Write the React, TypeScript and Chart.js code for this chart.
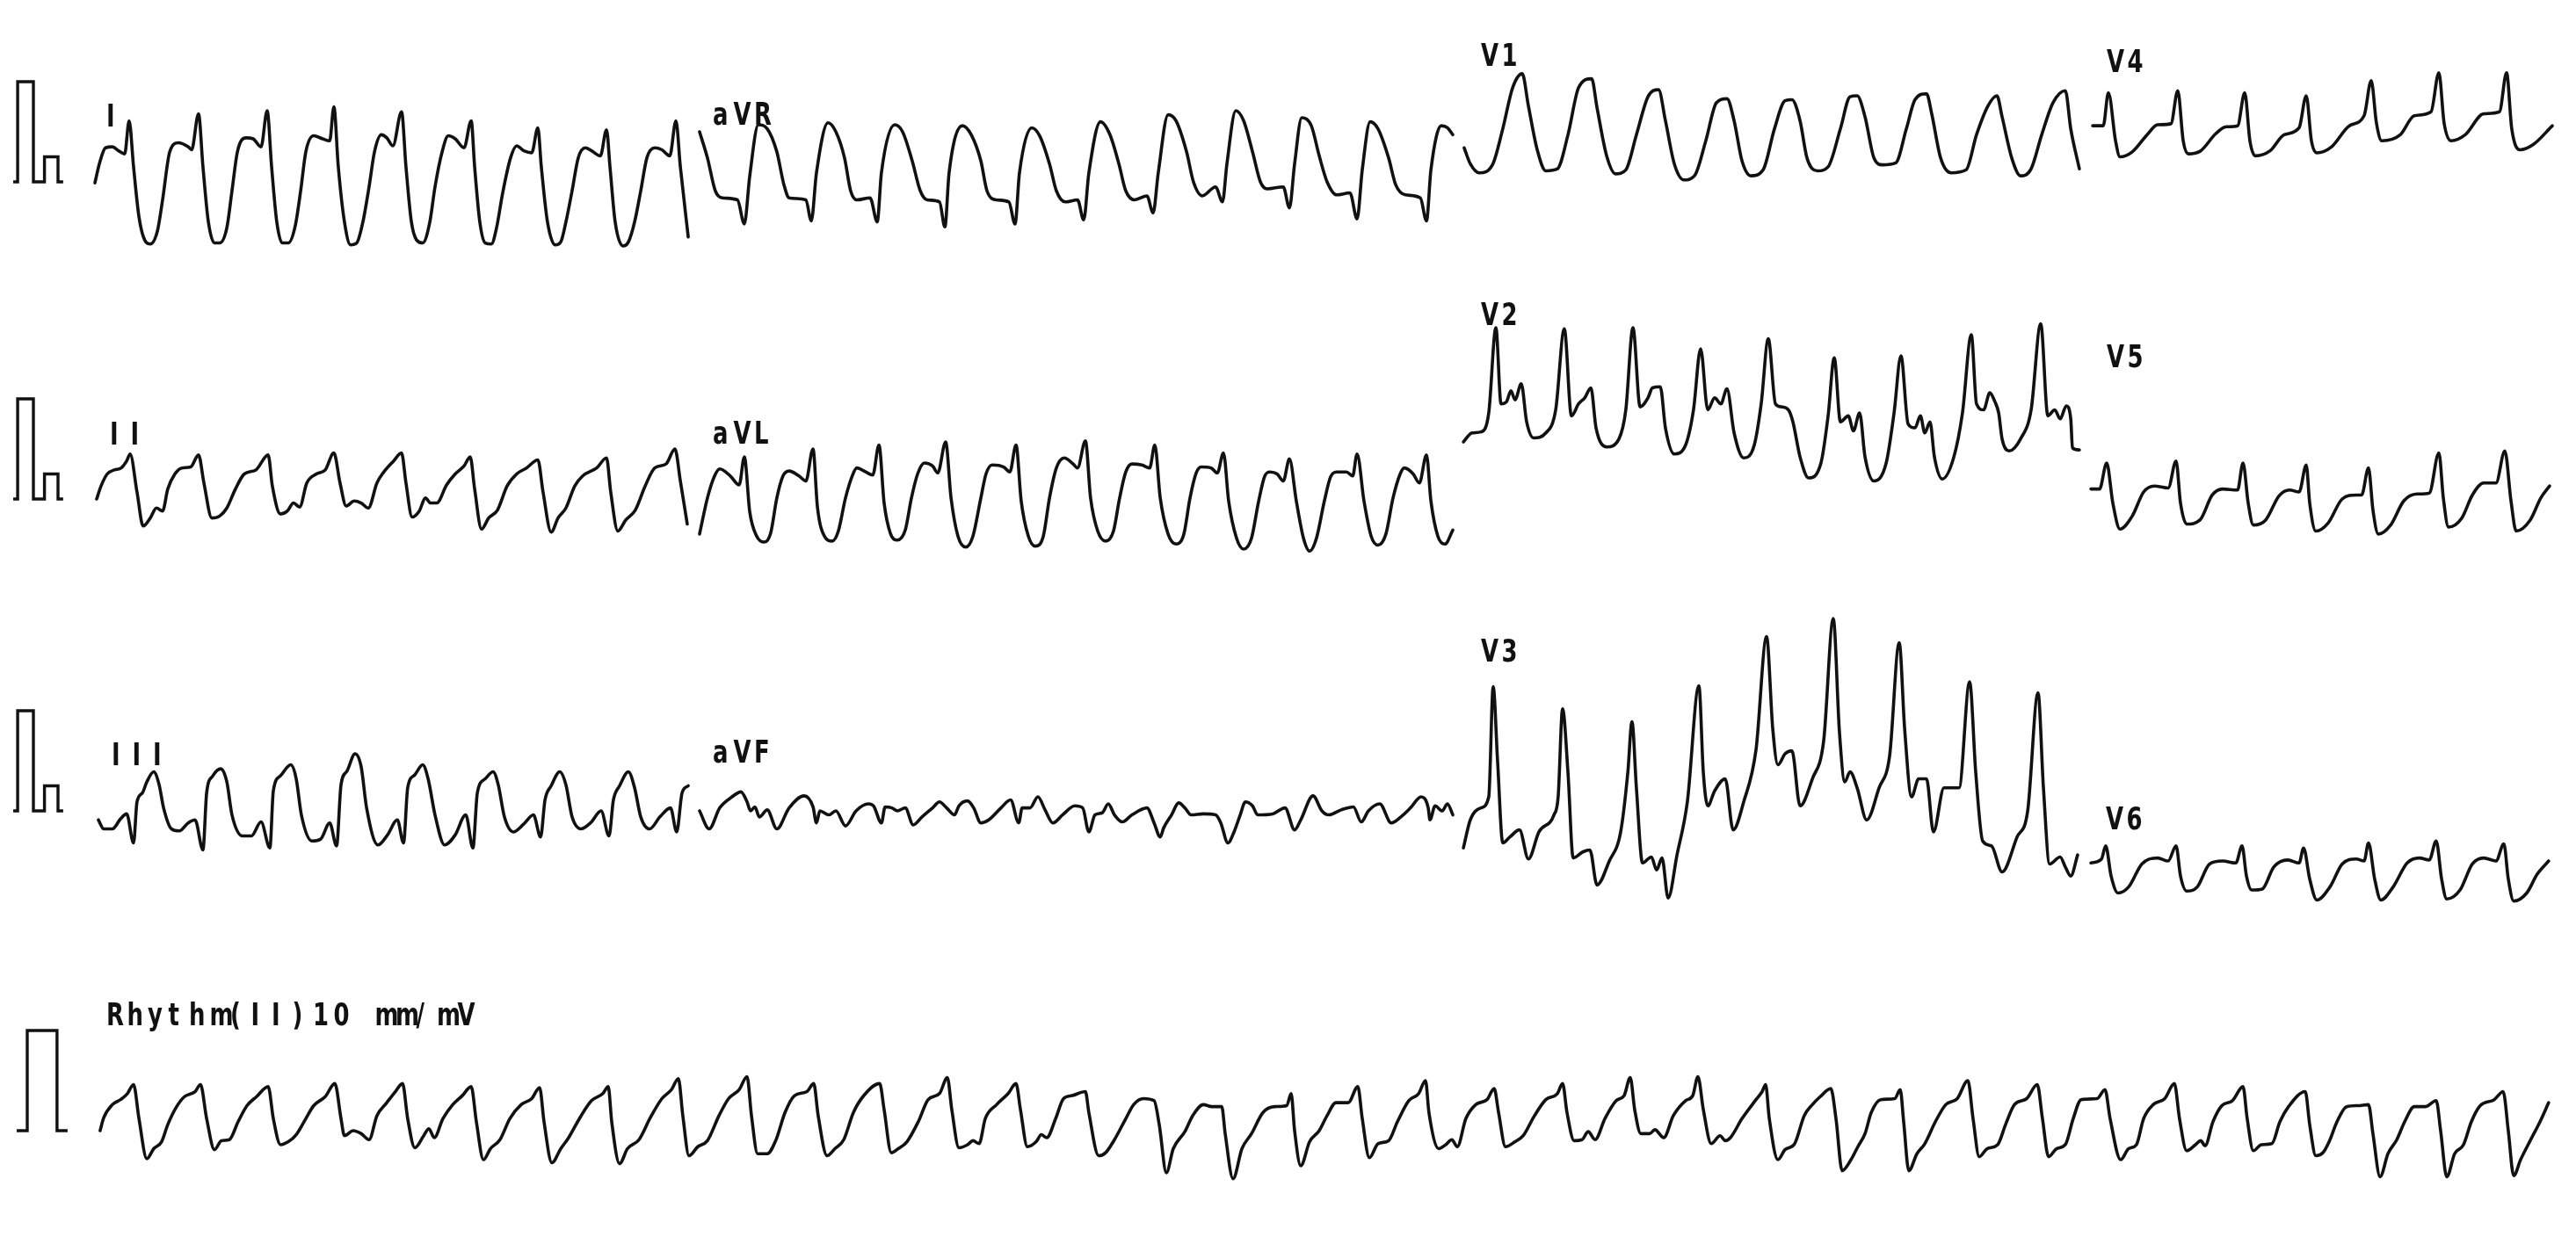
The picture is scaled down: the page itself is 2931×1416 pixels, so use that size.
import { useEffect, useRef } from "react";
import { Chart, registerables } from "chart.js";

Chart.register(...registerables);

// ---------------- DATA (time in s from strip start, amplitude in mV from row baseline) ----------------
const LEAD_NAMES = ["I", "II", "III", "aVR", "aVL", "aVF", "V1", "V2", "V3", "V4", "V5", "V6"];
const RHYTHM_LABEL = "Rhythm(II)10 mm/mV";

const CAL_LIMB: [number, number][] = [
  [-0.332, 0], [-0.314, 0], [-0.314, 1], [-0.25, 1], [-0.25, 0], [-0.205, 0], [-0.205, 0.25], [-0.15, 0.25], [-0.15, 0], [-0.129, 0],
];
const CAL_RHYTHM: [number, number][] = [
  [-0.318, 0], [-0.275, 0], [-0.275, 1], [-0.154, 1], [-0.154, 0], [-0.111, 0],
];

const LEAD_I: [number, number][] = [
  [0.000, -0.01], [0.018, 0.18], [0.043, 0.34], [0.071, 0.35], [0.096, 0.31], [0.121, 0.28], [0.139, 0.61], [0.157, 0.15], [0.179, -0.35], [0.207, -0.60],
  [0.225, -0.62], [0.254, -0.49], [0.275, -0.18], [0.304, 0.30], [0.339, 0.39], [0.379, 0.35], [0.393, 0.32], [0.421, 0.68], [0.439, 0.15], [0.461, -0.40],
  [0.486, -0.61], [0.507, -0.61], [0.536, -0.46], [0.557, -0.09], [0.579, 0.30], [0.614, 0.44], [0.643, 0.43], [0.675, 0.35], [0.700, 0.71], [0.718, 0.15],
  [0.739, -0.40], [0.761, -0.61], [0.786, -0.61], [0.814, -0.44], [0.836, -0.09], [0.857, 0.30], [0.889, 0.46], [0.925, 0.43], [0.954, 0.41], [0.971, 0.75],
  [0.989, 0.15], [1.014, -0.40], [1.039, -0.63], [1.064, -0.61], [1.089, -0.40], [1.114, -0.05], [1.136, 0.30], [1.164, 0.47], [1.186, 0.44], [1.211, 0.36],
  [1.246, 0.70], [1.264, 0.15], [1.286, -0.40], [1.307, -0.58], [1.332, -0.61], [1.361, -0.40], [1.382, -0.05], [1.411, 0.30], [1.436, 0.46], [1.464, 0.43],
  [1.500, 0.34], [1.529, 0.61], [1.543, 0.15], [1.564, -0.40], [1.586, -0.61], [1.611, -0.62], [1.632, -0.46], [1.657, -0.11], [1.689, 0.24], [1.714, 0.36],
  [1.743, 0.31], [1.775, 0.29], [1.800, 0.54], [1.814, 0.15], [1.839, -0.40], [1.871, -0.63], [1.893, -0.60], [1.914, -0.40], [1.939, -0.09], [1.964, 0.24],
  [1.993, 0.34], [2.018, 0.31], [2.054, 0.26], [2.079, 0.52], [2.093, 0.15], [2.114, -0.40], [2.146, -0.64], [2.168, -0.60], [2.193, -0.40], [2.218, -0.09],
  [2.243, 0.24], [2.275, 0.34], [2.304, 0.32], [2.336, 0.26], [2.361, 0.61], [2.379, 0.15], [2.411, -0.55],
];

const LEAD_II: [number, number][] = [
  [0.007, 0.00], [0.025, 0.13], [0.050, 0.25], [0.079, 0.29], [0.107, 0.31], [0.129, 0.38], [0.143, 0.45], [0.171, 0.07], [0.196, -0.27], [0.225, -0.19],
  [0.250, -0.09], [0.275, -0.12], [0.296, 0.10], [0.325, 0.25], [0.354, 0.31], [0.389, 0.32], [0.421, 0.44], [0.443, 0.16], [0.475, -0.19], [0.507, -0.17],
  [0.536, -0.09], [0.571, 0.10], [0.607, 0.25], [0.654, 0.29], [0.704, 0.44], [0.721, 0.13], [0.754, -0.15], [0.782, -0.12], [0.807, -0.04], [0.832, -0.08],
  [0.861, 0.16], [0.900, 0.25], [0.936, 0.29], [0.971, 0.46], [0.996, 0.16], [1.021, -0.07], [1.054, -0.02], [1.082, -0.04], [1.111, -0.09], [1.146, 0.16],
  [1.171, 0.26], [1.214, 0.38], [1.246, 0.46], [1.264, 0.16], [1.289, -0.18], [1.318, -0.12], [1.343, 0.01], [1.364, -0.04], [1.389, -0.04], [1.429, 0.14],
  [1.464, 0.25], [1.500, 0.33], [1.525, 0.42], [1.543, 0.10], [1.571, -0.30], [1.600, -0.19], [1.636, -0.11], [1.675, 0.13], [1.714, 0.25], [1.754, 0.31],
  [1.800, 0.39], [1.821, 0.07], [1.854, -0.33], [1.882, -0.19], [1.914, -0.09], [1.950, 0.13], [1.982, 0.23], [2.039, 0.31], [2.079, 0.41], [2.096, 0.07],
  [2.125, -0.32], [2.157, -0.21], [2.196, -0.11], [2.236, 0.13], [2.275, 0.31], [2.321, 0.35], [2.357, 0.50], [2.379, 0.18], [2.407, -0.25],
];

const LEAD_III: [number, number][] = [
  [0.014, -0.09], [0.036, -0.18], [0.071, -0.18], [0.104, -0.08], [0.129, -0.03], [0.157, -0.32], [0.171, 0.09], [0.193, 0.18], [0.211, 0.29], [0.239, 0.39],
  [0.261, 0.26], [0.279, 0.03], [0.311, -0.18], [0.343, -0.20], [0.379, -0.12], [0.407, -0.09], [0.439, -0.39], [0.454, 0.18], [0.479, 0.35], [0.511, 0.42],
  [0.536, 0.29], [0.557, -0.04], [0.600, -0.25], [0.636, -0.25], [0.675, -0.11], [0.711, -0.37], [0.725, 0.20], [0.754, 0.35], [0.796, 0.46], [0.818, 0.32],
  [0.839, -0.04], [0.882, -0.30], [0.918, -0.28], [0.954, -0.12], [0.982, -0.35], [1.000, 0.26], [1.025, 0.40], [1.057, 0.57], [1.082, 0.44], [1.104, 0.03],
  [1.150, -0.34], [1.189, -0.24], [1.229, -0.09], [1.254, -0.32], [1.271, 0.23], [1.300, 0.36], [1.332, 0.46], [1.354, 0.32], [1.382, -0.04], [1.421, -0.34],
  [1.464, -0.24], [1.507, -0.04], [1.536, -0.37], [1.554, 0.18], [1.586, 0.32], [1.618, 0.39], [1.639, 0.26], [1.664, -0.06], [1.700, -0.21], [1.743, -0.13],
  [1.782, -0.04], [1.811, -0.26], [1.829, 0.11], [1.854, 0.25], [1.889, 0.39], [1.914, 0.26], [1.939, -0.06], [1.975, -0.18], [2.014, -0.12], [2.057, 0.00],
  [2.089, -0.25], [2.107, 0.11], [2.132, 0.25], [2.168, 0.39], [2.193, 0.23], [2.218, -0.06], [2.254, -0.18], [2.296, -0.06], [2.339, 0.03], [2.364, -0.21],
  [2.386, 0.18], [2.411, 0.25],
];

const LEAD_AVR: [number, number][] = [
  [2.457, 0.50], [2.489, 0.24], [2.521, -0.09], [2.550, -0.16], [2.611, -0.18], [2.639, -0.42], [2.661, 0.06], [2.696, 0.57], [2.732, 0.53], [2.771, 0.30],
  [2.800, -0.03], [2.821, -0.16], [2.889, -0.18], [2.911, -0.39], [2.932, 0.09], [2.979, 0.59], [3.011, 0.50], [3.046, 0.24], [3.071, -0.09], [3.096, -0.18],
  [3.150, -0.16], [3.179, -0.40], [3.196, 0.09], [3.250, 0.57], [3.282, 0.50], [3.321, 0.21], [3.354, -0.09], [3.382, -0.18], [3.432, -0.20], [3.454, -0.45],
  [3.471, 0.09], [3.525, 0.56], [3.561, 0.47], [3.600, 0.21], [3.625, -0.09], [3.664, -0.18], [3.714, -0.20], [3.739, -0.42], [3.757, 0.09], [3.807, 0.54],
  [3.839, 0.46], [3.879, 0.18], [3.907, -0.09], [3.943, -0.20], [3.993, -0.18], [4.018, -0.38], [4.039, 0.09], [4.086, 0.60], [4.125, 0.47], [4.161, 0.18],
  [4.189, -0.09], [4.225, -0.18], [4.275, -0.14], [4.300, -0.31], [4.321, 0.09], [4.361, 0.67], [4.393, 0.61], [4.436, 0.30], [4.464, 0.00], [4.500, -0.14],
  [4.554, -0.05], [4.582, -0.20], [4.600, 0.18], [4.636, 0.71], [4.668, 0.61], [4.704, 0.30], [4.736, 0.00], [4.764, -0.07], [4.829, -0.05], [4.854, -0.26],
  [4.875, 0.18], [4.904, 0.64], [4.943, 0.56], [4.975, 0.26], [5.007, 0.00], [5.046, -0.13], [5.100, -0.11], [5.129, -0.37], [5.150, 0.12], [5.182, 0.60],
  [5.214, 0.53], [5.257, 0.24], [5.286, -0.03], [5.325, -0.13], [5.386, -0.16], [5.411, -0.39], [5.429, 0.12], [5.471, 0.56], [5.496, 0.54], [5.518, 0.47],
];

const LEAD_AVL: [number, number][] = [
  [2.457, -0.35], [2.489, 0.01], [2.518, 0.23], [2.539, 0.30], [2.582, 0.23], [2.618, 0.14], [2.639, 0.42], [2.661, -0.13], [2.689, -0.37], [2.721, -0.43],
  [2.746, -0.34], [2.771, 0.01], [2.796, 0.23], [2.821, 0.28], [2.861, 0.23], [2.889, 0.18], [2.918, 0.50], [2.936, -0.08], [2.964, -0.37], [2.996, -0.42],
  [3.021, -0.32], [3.050, 0.01], [3.079, 0.24], [3.096, 0.31], [3.132, 0.27], [3.161, 0.24], [3.186, 0.54], [3.207, -0.04], [3.232, -0.34], [3.261, -0.41],
  [3.293, -0.31], [3.318, 0.01], [3.343, 0.25], [3.371, 0.36], [3.404, 0.33], [3.425, 0.26], [3.457, 0.57], [3.479, 0.01], [3.507, -0.37], [3.539, -0.48],
  [3.568, -0.37], [3.600, 0.01], [3.621, 0.25], [3.646, 0.34], [3.693, 0.32], [3.718, 0.27], [3.743, 0.54], [3.764, -0.02], [3.793, -0.37], [3.821, -0.47],
  [3.854, -0.37], [3.879, 0.01], [3.907, 0.31], [3.939, 0.41], [3.975, 0.35], [3.993, 0.31], [4.025, 0.58], [4.046, 0.01], [4.075, -0.32], [4.107, -0.42],
  [4.139, -0.32], [4.164, 0.01], [4.189, 0.27], [4.214, 0.35], [4.254, 0.34], [4.286, 0.31], [4.307, 0.54], [4.329, 0.01], [4.361, -0.35], [4.393, -0.45],
  [4.425, -0.35], [4.450, 0.01], [4.475, 0.26], [4.496, 0.32], [4.536, 0.31], [4.561, 0.26], [4.586, 0.46], [4.607, -0.02], [4.639, -0.39], [4.668, -0.50],
  [4.700, -0.39], [4.729, -0.02], [4.754, 0.23], [4.775, 0.27], [4.804, 0.25], [4.829, 0.18], [4.854, 0.40], [4.882, -0.02], [4.911, -0.39], [4.936, -0.52],
  [4.964, -0.39], [4.996, -0.02], [5.021, 0.22], [5.046, 0.27], [5.086, 0.27], [5.111, 0.23], [5.129, 0.45], [5.157, -0.02], [5.186, -0.37], [5.214, -0.46],
  [5.246, -0.35], [5.275, 0.01], [5.304, 0.25], [5.321, 0.31], [5.357, 0.25], [5.382, 0.16], [5.411, 0.44], [5.429, -0.02], [5.457, -0.37], [5.486, -0.45],
  [5.518, -0.31],
];

const LEAD_AVF: [number, number][] = [
  [2.457, 0.00], [2.496, -0.18], [2.539, 0.03], [2.589, 0.14], [2.625, 0.19], [2.650, 0.09], [2.664, 0.00], [2.682, 0.04], [2.700, -0.06], [2.732, 0.01],
  [2.771, -0.18], [2.821, 0.03], [2.882, 0.15], [2.918, 0.04], [2.932, -0.12], [2.946, 0.00], [2.982, -0.04], [3.011, 0.00], [3.050, -0.15], [3.093, 0.00],
  [3.143, 0.07], [3.164, 0.05], [3.196, -0.12], [3.211, 0.04], [3.239, 0.03], [3.261, 0.00], [3.293, 0.03], [3.325, -0.14], [3.361, -0.06], [3.404, 0.03],
  [3.432, 0.09], [3.461, 0.03], [3.493, -0.04], [3.511, 0.05], [3.546, 0.10], [3.571, 0.03], [3.600, -0.12], [3.632, -0.09], [3.682, 0.03], [3.721, 0.11],
  [3.754, -0.12], [3.768, 0.03], [3.800, 0.03], [3.832, 0.14], [3.861, 0.01], [3.893, -0.12], [3.932, -0.04], [3.982, 0.05], [4.014, 0.03], [4.039, -0.21],
  [4.064, -0.04], [4.093, -0.02], [4.118, 0.07], [4.143, -0.04], [4.175, -0.11], [4.214, -0.04], [4.275, 0.03], [4.304, -0.12], [4.329, -0.26], [4.343, -0.17],
  [4.375, -0.04], [4.404, 0.08], [4.429, 0.03], [4.454, -0.04], [4.504, -0.03], [4.554, -0.04], [4.575, -0.12], [4.604, -0.32], [4.629, -0.21], [4.654, -0.04],
  [4.675, 0.09], [4.704, 0.05], [4.725, -0.04], [4.786, -0.03], [4.836, 0.03], [4.875, -0.19], [4.900, -0.09], [4.950, 0.15], [4.986, 0.00], [5.014, -0.04],
  [5.064, 0.01], [5.114, 0.04], [5.146, -0.11], [5.175, 0.00], [5.221, 0.07], [5.268, -0.12], [5.307, -0.06], [5.346, 0.03], [5.389, 0.14], [5.418, 0.03],
  [5.425, -0.09], [5.446, 0.05], [5.475, 0.00], [5.496, 0.07], [5.518, -0.04],
];

const LEAD_V1: [number, number][] = [
  [5.564, 0.34], [5.589, 0.18], [5.625, 0.09], [5.679, 0.17], [5.721, 0.53], [5.761, 0.94], [5.800, 1.08], [5.825, 0.76], [5.861, 0.32], [5.896, 0.11],
  [5.943, 0.13], [5.986, 0.47], [6.029, 0.94], [6.082, 1.03], [6.104, 0.74], [6.143, 0.26], [6.179, 0.08], [6.221, 0.12], [6.264, 0.47], [6.311, 0.85],
  [6.354, 0.92], [6.382, 0.61], [6.418, 0.18], [6.457, 0.02], [6.500, 0.06], [6.546, 0.41], [6.589, 0.79], [6.632, 0.83], [6.661, 0.61], [6.693, 0.21],
  [6.729, 0.06], [6.779, 0.12], [6.825, 0.53], [6.868, 0.81], [6.896, 0.82], [6.929, 0.61], [6.957, 0.24], [7.000, 0.11], [7.043, 0.15], [7.093, 0.53],
  [7.132, 0.85], [7.161, 0.86], [7.193, 0.65], [7.229, 0.24], [7.264, 0.17], [7.318, 0.19], [7.361, 0.53], [7.396, 0.82], [7.443, 0.88], [7.464, 0.68],
  [7.500, 0.24], [7.543, 0.09], [7.604, 0.12], [7.646, 0.47], [7.693, 0.76], [7.729, 0.86], [7.750, 0.65], [7.789, 0.24], [7.825, 0.06], [7.868, 0.13],
  [7.911, 0.47], [7.957, 0.79], [8.007, 0.91], [8.029, 0.53], [8.064, 0.13],
];

const LEAD_V2: [number, number][] = [
  [5.561, 0.57], [5.596, 0.66], [5.632, 0.67], [5.664, 0.86], [5.693, 1.71], [5.714, 0.95], [5.736, 0.97], [5.754, 1.08], [5.771, 0.99], [5.796, 1.15],
  [5.818, 0.77], [5.846, 0.61], [5.896, 0.66], [5.936, 0.89], [5.971, 1.70], [6.000, 0.83], [6.029, 0.95], [6.054, 1.01], [6.079, 1.11], [6.100, 0.71],
  [6.143, 0.52], [6.193, 0.60], [6.221, 0.89], [6.250, 1.71], [6.279, 0.92], [6.311, 1.01], [6.329, 1.11], [6.361, 1.12], [6.382, 0.71], [6.418, 0.45],
  [6.464, 0.54], [6.496, 0.89], [6.525, 1.50], [6.554, 0.89], [6.582, 1.01], [6.607, 0.95], [6.632, 1.10], [6.661, 0.66], [6.700, 0.41], [6.743, 0.54],
  [6.771, 0.95], [6.800, 1.60], [6.829, 0.95], [6.854, 0.92], [6.882, 0.89], [6.900, 0.77], [6.929, 0.42], [6.964, 0.21], [7.014, 0.36], [7.043, 0.83],
  [7.068, 1.41], [7.093, 0.77], [7.125, 0.83], [7.146, 0.68], [7.171, 0.86], [7.193, 0.42], [7.229, 0.18], [7.279, 0.36], [7.311, 0.86], [7.339, 1.43],
  [7.368, 0.75], [7.396, 0.71], [7.418, 0.83], [7.436, 0.66], [7.457, 0.77], [7.475, 0.42], [7.507, 0.20], [7.554, 0.42], [7.589, 0.86], [7.625, 1.64],
  [7.646, 0.95], [7.675, 0.89], [7.700, 1.06], [7.721, 0.97], [7.736, 0.86], [7.750, 0.60], [7.779, 0.48], [7.825, 0.60], [7.868, 0.89], [7.907, 1.75],
  [7.936, 0.83], [7.964, 0.89], [7.986, 0.80], [8.011, 0.93], [8.029, 0.80], [8.036, 0.51], [8.064, 0.49],
];

const LEAD_V3: [number, number][] = [
  [5.561, -0.37], [5.589, -0.09], [5.632, 0.03], [5.664, 0.14], [5.682, 1.24], [5.700, 0.49], [5.721, -0.32], [5.750, -0.26], [5.789, -0.19], [5.825, -0.48],
  [5.868, -0.21], [5.929, -0.04], [5.946, 0.14], [5.964, 1.02], [5.986, 0.38], [6.007, -0.47], [6.046, -0.41], [6.075, -0.39], [6.104, -0.74], [6.154, -0.50],
  [6.200, -0.21], [6.229, 0.38], [6.246, 0.89], [6.264, 0.23], [6.289, -0.52], [6.325, -0.46], [6.346, -0.59], [6.368, -0.47], [6.393, -0.87], [6.429, -0.44],
  [6.471, 0.09], [6.518, 1.25], [6.536, 0.38], [6.554, 0.05], [6.582, 0.20], [6.625, 0.32], [6.657, -0.19], [6.700, 0.09], [6.750, 0.61], [6.793, 1.74],
  [6.818, 0.82], [6.839, 0.46], [6.868, 0.57], [6.896, 0.60], [6.929, 0.05], [6.979, 0.32], [7.025, 0.70], [7.064, 1.92], [7.089, 0.79], [7.111, 0.29],
  [7.132, 0.39], [7.161, 0.23], [7.200, -0.09], [7.250, 0.23], [7.293, 0.55], [7.332, 1.68], [7.354, 0.82], [7.382, 0.14], [7.411, 0.32], [7.443, 0.32],
  [7.471, -0.21], [7.514, 0.23], [7.575, 0.23], [7.618, 1.29], [7.643, 0.38], [7.671, -0.30], [7.707, -0.35], [7.750, -0.61], [7.811, -0.26], [7.854, 0.00],
  [7.896, 1.18], [7.918, 0.23], [7.943, -0.53], [7.986, -0.46], [8.007, -0.56], [8.029, -0.65], [8.057, -0.44],
];

const LEAD_V4: [number, number][] = [
  [8.118, 0.56], [8.161, 0.56], [8.182, 0.89], [8.211, 0.41], [8.229, 0.25], [8.279, 0.30], [8.339, 0.47], [8.382, 0.57], [8.436, 0.58], [8.464, 0.91],
  [8.486, 0.41], [8.507, 0.28], [8.557, 0.31], [8.618, 0.48], [8.661, 0.55], [8.707, 0.56], [8.736, 0.89], [8.757, 0.41], [8.779, 0.26], [8.839, 0.31],
  [8.896, 0.47], [8.957, 0.54], [8.986, 0.86], [9.007, 0.41], [9.029, 0.29], [9.089, 0.35], [9.161, 0.56], [9.221, 0.66], [9.250, 1.01], [9.271, 0.59],
  [9.293, 0.41], [9.368, 0.47], [9.425, 0.66], [9.493, 0.70], [9.525, 1.09], [9.546, 0.59], [9.575, 0.41], [9.632, 0.47], [9.707, 0.68], [9.771, 0.70],
  [9.800, 1.09], [9.821, 0.53], [9.854, 0.32], [9.907, 0.37], [9.986, 0.56],
];

const LEAD_V5: [number, number][] = [
  [8.111, 0.10], [8.146, 0.10], [8.175, 0.36], [8.200, -0.04], [8.229, -0.30], [8.279, -0.17], [8.325, 0.07], [8.368, 0.13], [8.425, 0.11], [8.457, 0.38],
  [8.475, -0.04], [8.500, -0.25], [8.554, -0.21], [8.604, 0.04], [8.646, 0.10], [8.707, 0.09], [8.729, 0.36], [8.750, -0.04], [8.771, -0.26], [8.821, -0.21],
  [8.875, 0.03], [8.918, 0.09], [8.957, 0.07], [8.986, 0.34], [9.000, -0.04], [9.025, -0.32], [9.075, -0.24], [9.132, 0.00], [9.189, 0.04], [9.211, 0.04],
  [9.239, 0.31], [9.257, -0.11], [9.279, -0.35], [9.329, -0.26], [9.382, -0.02], [9.436, 0.05], [9.486, 0.06], [9.525, 0.46], [9.543, 0.01], [9.564, -0.28],
  [9.618, -0.19], [9.661, 0.04], [9.707, 0.16], [9.757, 0.16], [9.793, 0.48], [9.818, -0.02], [9.839, -0.32], [9.896, -0.21], [9.939, 0.01], [9.975, 0.13],
];

const LEAD_V6: [number, number][] = [
  [8.111, -0.52], [8.154, -0.48], [8.171, -0.35], [8.193, -0.65], [8.221, -0.82], [8.264, -0.76], [8.318, -0.53], [8.382, -0.47], [8.425, -0.50], [8.457, -0.35],
  [8.475, -0.65], [8.500, -0.80], [8.543, -0.76], [8.593, -0.53], [8.646, -0.50], [8.700, -0.52], [8.725, -0.35], [8.743, -0.65], [8.764, -0.79], [8.807, -0.78],
  [8.854, -0.56], [8.911, -0.49], [8.957, -0.52], [8.975, -0.37], [9.000, -0.68], [9.029, -0.89], [9.082, -0.76], [9.132, -0.53], [9.189, -0.48], [9.221, -0.50],
  [9.239, -0.32], [9.264, -0.68], [9.289, -0.89], [9.339, -0.76], [9.396, -0.52], [9.446, -0.47], [9.486, -0.49], [9.514, -0.30], [9.536, -0.68], [9.557, -0.88],
  [9.611, -0.79], [9.661, -0.53], [9.707, -0.47], [9.757, -0.50], [9.789, -0.33], [9.807, -0.68], [9.829, -0.90], [9.882, -0.82], [9.925, -0.63], [9.971, -0.50],
];

const RHYTHM_II: [number, number][] = [
  [0.021, 0.00], [0.036, 0.13], [0.071, 0.26], [0.104, 0.31], [0.132, 0.37], [0.157, 0.46], [0.179, 0.12], [0.211, -0.28], [0.239, -0.18], [0.271, -0.11],
  [0.296, 0.06], [0.332, 0.24], [0.364, 0.34], [0.407, 0.39], [0.429, 0.46], [0.454, 0.12], [0.486, -0.19], [0.514, -0.10], [0.546, -0.09], [0.582, 0.09],
  [0.618, 0.25], [0.657, 0.34], [0.704, 0.44], [0.725, 0.12], [0.754, -0.14], [0.786, -0.11], [0.818, -0.04], [0.857, 0.12], [0.889, 0.25], [0.936, 0.34],
  [0.975, 0.47], [1.000, 0.12], [1.014, -0.05], [1.050, 0.00], [1.082, -0.03], [1.114, -0.09], [1.146, 0.15], [1.186, 0.28], [1.221, 0.39], [1.250, 0.47],
  [1.271, 0.12], [1.300, -0.17], [1.336, -0.05], [1.357, 0.02], [1.379, -0.07], [1.414, 0.12], [1.454, 0.26], [1.493, 0.35], [1.529, 0.44], [1.550, 0.09],
  [1.579, -0.29], [1.607, -0.18], [1.646, -0.09], [1.686, 0.12], [1.732, 0.26], [1.775, 0.32], [1.807, 0.43], [1.825, 0.09], [1.857, -0.32], [1.893, -0.18],
  [1.925, -0.07], [1.971, 0.13], [2.018, 0.30], [2.064, 0.37], [2.086, 0.44], [2.100, 0.09], [2.132, -0.33], [2.164, -0.18], [2.211, -0.09], [2.257, 0.13],
  [2.304, 0.32], [2.343, 0.41], [2.371, 0.52], [2.389, 0.15], [2.414, -0.25], [2.450, -0.16], [2.489, -0.10], [2.536, 0.15], [2.575, 0.32], [2.618, 0.41],
  [2.650, 0.54], [2.668, 0.15], [2.693, -0.23], [2.732, -0.23], [2.768, -0.09], [2.804, 0.18], [2.843, 0.35], [2.893, 0.39], [2.921, 0.47], [2.939, 0.15],
  [2.975, -0.25], [3.007, -0.18], [3.043, -0.09], [3.082, 0.18], [3.121, 0.34], [3.189, 0.47], [3.207, 0.21], [3.236, -0.22], [3.264, -0.18], [3.300, -0.11],
  [3.346, 0.09], [3.386, 0.31], [3.432, 0.37], [3.464, 0.53], [3.482, 0.21], [3.511, -0.17], [3.546, -0.14], [3.568, -0.10], [3.593, -0.13], [3.618, 0.12],
  [3.664, 0.26], [3.711, 0.37], [3.743, 0.47], [3.761, 0.21], [3.789, -0.16], [3.825, -0.11], [3.846, -0.04], [3.868, -0.07], [3.904, 0.12], [3.936, 0.32],
  [3.971, 0.35], [4.025, 0.39], [4.039, 0.18], [4.079, -0.25], [4.107, -0.22], [4.143, -0.09], [4.189, 0.12], [4.221, 0.26], [4.261, 0.32], [4.304, 0.30],
  [4.325, 0.06], [4.354, -0.42], [4.382, -0.18], [4.429, -0.01], [4.461, 0.15], [4.504, 0.26], [4.539, 0.24], [4.579, 0.24], [4.593, -0.03], [4.625, -0.48],
  [4.661, -0.18], [4.700, -0.03], [4.746, 0.18], [4.793, 0.24], [4.843, 0.25], [4.861, 0.37], [4.875, 0.00], [4.900, -0.35], [4.936, -0.11], [4.975, 0.00],
  [5.007, 0.15], [5.043, 0.28], [5.093, 0.28], [5.132, 0.44], [5.150, 0.12], [5.179, -0.27], [5.214, -0.13], [5.257, -0.10], [5.293, 0.09], [5.339, 0.30],
  [5.379, 0.37], [5.407, 0.50], [5.421, 0.18], [5.461, -0.18], [5.489, -0.14], [5.514, -0.09], [5.536, -0.16], [5.571, 0.12], [5.611, 0.26], [5.657, 0.31],
  [5.686, 0.42], [5.704, 0.18], [5.732, -0.16], [5.771, -0.11], [5.804, -0.05], [5.850, 0.15], [5.896, 0.31], [5.943, 0.37], [5.964, 0.47], [5.982, 0.18],
  [6.011, -0.10], [6.043, -0.09], [6.068, -0.01], [6.096, -0.09], [6.136, 0.12], [6.182, 0.30], [6.214, 0.35], [6.239, 0.53], [6.257, 0.21], [6.282, -0.03],
  [6.318, -0.03], [6.339, 0.01], [6.375, -0.07], [6.414, 0.15], [6.464, 0.30], [6.493, 0.35], [6.514, 0.54], [6.536, 0.21], [6.568, -0.13], [6.604, -0.05],
  [6.625, -0.10], [6.646, -0.07], [6.693, 0.12], [6.750, 0.31], [6.775, 0.39], [6.789, 0.46], [6.804, 0.12], [6.839, -0.29], [6.868, -0.19], [6.907, -0.13],
  [6.946, 0.15], [6.979, 0.26], [7.011, 0.34], [7.054, 0.42], [7.075, 0.12], [7.100, -0.40], [7.136, -0.29], [7.164, -0.16], [7.193, -0.03], [7.218, 0.18],
  [7.257, 0.31], [7.314, 0.32], [7.336, 0.41], [7.350, 0.09], [7.371, -0.40], [7.404, -0.23], [7.436, -0.13], [7.479, 0.09], [7.521, 0.26], [7.568, 0.32],
  [7.611, 0.50], [7.632, 0.12], [7.657, -0.26], [7.689, -0.18], [7.732, -0.14], [7.764, 0.06], [7.800, 0.26], [7.850, 0.32], [7.893, 0.46], [7.914, 0.12],
  [7.939, -0.26], [7.971, -0.18], [8.007, -0.14], [8.039, 0.12], [8.071, 0.31], [8.136, 0.32], [8.168, 0.41], [8.189, 0.12], [8.232, -0.29], [8.264, -0.18],
  [8.296, -0.14], [8.325, 0.12], [8.364, 0.26], [8.411, 0.32], [8.450, 0.47], [8.471, 0.12], [8.500, -0.20], [8.536, -0.14], [8.557, -0.10], [8.575, -0.15],
  [8.607, 0.09], [8.643, 0.25], [8.686, 0.30], [8.729, 0.44], [8.746, 0.12], [8.771, -0.20], [8.804, -0.14], [8.846, -0.13], [8.879, 0.09], [8.914, 0.24],
  [8.982, 0.39], [9.000, 0.06], [9.025, -0.25], [9.054, -0.22], [9.079, -0.11], [9.111, 0.09], [9.150, 0.24], [9.196, 0.25], [9.239, 0.26], [9.257, -0.03],
  [9.286, -0.46], [9.318, -0.23], [9.354, -0.09], [9.386, 0.09], [9.425, 0.24], [9.471, 0.24], [9.514, 0.30], [9.532, 0.00], [9.557, -0.46], [9.589, -0.23],
  [9.625, -0.14], [9.657, 0.09], [9.693, 0.25], [9.750, 0.31], [9.786, 0.39], [9.807, 0.00], [9.829, -0.45], [9.857, -0.29], [9.896, -0.10], [9.936, 0.09],
  [9.971, 0.28],
];

// ---------------- LAYOUT (page geometry, not data) ----------------
const W = 2931;
const H = 1416;
const PX_PER_S = 280;
const PX_PER_MV = 114;
const T0_PX = 108;
const ROW_BASE_PX = [207, 568, 923, 1287];
const rowOffset = (r: number) => -ROW_BASE_PX[r] / PX_PER_MV;

const TRACES = [
  { data: LEAD_I, row: 0 }, { data: LEAD_II, row: 1 }, { data: LEAD_III, row: 2 },
  { data: LEAD_AVR, row: 0 }, { data: LEAD_AVL, row: 1 }, { data: LEAD_AVF, row: 2 },
  { data: LEAD_V1, row: 0 }, { data: LEAD_V2, row: 1 }, { data: LEAD_V3, row: 2 },
  { data: LEAD_V4, row: 0 }, { data: LEAD_V5, row: 1 }, { data: LEAD_V6, row: 2 },
  { data: RHYTHM_II, row: 3 },
];
const CALS = [
  { data: CAL_LIMB, row: 0 }, { data: CAL_LIMB, row: 1 }, { data: CAL_LIMB, row: 2 }, { data: CAL_RHYTHM, row: 3 },
];
// label anchors: [time s, mV above row baseline]
const LABEL_ANCHORS: [number, number][] = [
  [0.046, 0.55], [0.061, 0.54], [0.068, 0.46],
  [2.511, 0.57], [2.511, 0.55], [2.511, 0.48],
  [5.632, 1.16], [5.632, 1.74], [5.632, 1.49],
  [8.175, 1.10], [8.175, 1.32], [8.171, -0.18],
];
const LABEL_ROWS = [0, 1, 2, 0, 1, 2, 0, 1, 2, 0, 1, 2];
const RHYTHM_ANCHOR: [number, number] = [0.046, 1.05];

const INK = "#111111";

export default function App() {
  const ref = useRef<HTMLCanvasElement | null>(null);

  useEffect(() => {
    document.body.style.margin = "0";
    document.body.style.background = "#ffffff";
    const canvas = ref.current;
    if (!canvas) return;

    const toXY = (arr: [number, number][], row: number) =>
      arr.map(([t, v]) => ({ x: t, y: v + rowOffset(row) }));

    const datasets: any[] = [];
    TRACES.forEach((tr) => {
      datasets.push({
        data: toXY(tr.data, tr.row),
        borderColor: INK,
        borderWidth: 3.6,
        pointRadius: 0,
        fill: false,
        cubicInterpolationMode: "monotone",
        borderJoinStyle: "round",
        borderCapStyle: "round",
      });
    });
    CALS.forEach((c) => {
      datasets.push({
        data: toXY(c.data, c.row),
        borderColor: INK,
        borderWidth: 3.4,
        pointRadius: 0,
        fill: false,
        tension: 0,
        borderJoinStyle: "miter",
        borderCapStyle: "butt",
      });
    });

    const drawLabel = (ctx: CanvasRenderingContext2D, text: string, x: number, y: number) => {
      const adv = 23.5;
      for (let i = 0; i < text.length; i++) {
        ctx.save();
        ctx.translate(x + i * adv, y);
        ctx.scale(0.72, 1);
        ctx.fillText(text[i], 0, 0);
        ctx.restore();
      }
    };

    const bgPlugin = {
      id: "bg",
      beforeDraw(chart: any) {
        const ctx = chart.ctx;
        ctx.save();
        ctx.fillStyle = "#ffffff";
        ctx.fillRect(0, 0, chart.width, chart.height);
        ctx.restore();
      },
    };

    const labelPlugin = {
      id: "leadLabels",
      afterDatasetsDraw(chart: any) {
        const ctx = chart.ctx;
        const xs = chart.scales.x;
        const ys = chart.scales.y;
        ctx.save();
        ctx.fillStyle = INK;
        ctx.font = "bold 36px 'DejaVu Sans', sans-serif";
        ctx.textAlign = "left";
        ctx.textBaseline = "alphabetic";
        LEAD_NAMES.forEach((name, i) => {
          const [t, dv] = LABEL_ANCHORS[i];
          const x = xs.getPixelForValue(t);
          const y = ys.getPixelForValue(dv + rowOffset(LABEL_ROWS[i]));
          drawLabel(ctx, name, x, y);
        });
        const rx = xs.getPixelForValue(RHYTHM_ANCHOR[0]);
        const ry = ys.getPixelForValue(RHYTHM_ANCHOR[1] + rowOffset(3));
        drawLabel(ctx, RHYTHM_LABEL, rx, ry);
        ctx.restore();
      },
    };

    const chart = new Chart(canvas, {
      type: "line",
      data: { datasets },
      options: {
        animation: false,
        responsive: false,
        devicePixelRatio: 1,
        events: [],
        layout: { padding: 0 },
        plugins: { legend: { display: false }, tooltip: { enabled: false }, title: { display: false } },
        scales: {
          x: { type: "linear", display: false, min: -T0_PX / PX_PER_S, max: (W - T0_PX) / PX_PER_S },
          y: { type: "linear", display: false, min: -H / PX_PER_MV, max: 0 },
        },
      },
      plugins: [bgPlugin, labelPlugin],
    } as any);

    return () => chart.destroy();
  }, []);

  return <canvas ref={ref} width={W} height={H} style={{ display: "block", width: W, height: H }} />;
}
